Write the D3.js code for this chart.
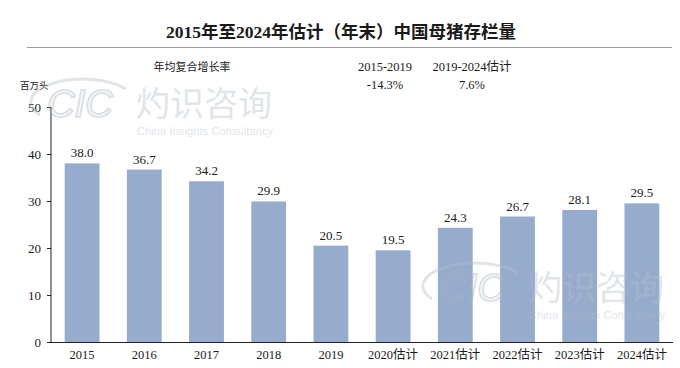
<!DOCTYPE html>
<html>
<head>
<meta charset="utf-8">
<script src="https://cdn.jsdelivr.net/npm/d3@7/dist/d3.min.js"></script>
<style>
  body { margin: 0; background: #fff; }
  svg text { font-family: "Liberation Serif", "Noto Sans CJK SC", serif; fill: #1a1a1a; }
</style>
</head>
<body>
<svg id="chart" width="680" height="368"></svg>
<script>
// data
const years = ['2015', '2016', '2017', '2018', '2019', '2020估计', '2021估计', '2022估计', '2023估计', '2024估计'];
const sows = [38.0, 36.7, 34.2, 29.9, 20.5, 19.5, 24.3, 26.7, 28.1, 29.5];
const yTicks = [0, 10, 20, 30, 40, 50];
const cagrPeriods = ['2015-2019', '2019-2024估计'];
const cagrValues = ['-14.3%', '7.6%'];

const svg = d3.select('#chart');
const margin = { top: 107, left: 51, right: 7, bottom: 26 };
const width = 680, height = 368;

const x = d3.scaleBand()
  .domain(years)
  .range([margin.left, width - margin.right])
  .paddingInner(0.44)
  .paddingOuter(0.22);

const y = d3.scaleLinear()
  .domain([0, 50])
  .range([height - margin.bottom, margin.top]);

// title
svg.append('text')
  .attr('x', 341).attr('y', 38)
  .attr('text-anchor', 'middle')
  .style('font-size', '17.5px')
  .style('font-weight', 'bold')
  .text('2015年至2024年估计（年末）中国母猪存栏量');

svg.append('line')
  .attr('x1', 27).attr('x2', 672)
  .attr('y1', 47.5).attr('y2', 47.5)
  .attr('stroke', '#999').attr('stroke-width', 1);

// CAGR header
svg.append('text')
  .attr('x', 192).attr('y', 71)
  .attr('text-anchor', 'middle')
  .style('font-size', '11px')
  .text('年均复合增长率');

const cagrX = [385, 472];
cagrPeriods.forEach((p, i) => {
  svg.append('text')
    .attr('x', cagrX[i]).attr('y', 71)
    .attr('text-anchor', 'middle')
    .style('font-size', '12.5px')
    .text(p);
  svg.append('text')
    .attr('x', cagrX[i]).attr('y', 89)
    .attr('text-anchor', 'middle')
    .style('font-size', '12.5px')
    .text(cagrValues[i]);
});

svg.append('text')
  .attr('x', 20).attr('y', 89)
  .style('font-size', '9.5px')
  .text('百万头');

// bars
svg.selectAll('.bar')
  .data(sows)
  .enter()
  .append('rect')
  .attr('class', 'bar')
  .attr('x', (d, i) => x(years[i]))
  .attr('width', x.bandwidth())
  .attr('y', d => y(d))
  .attr('height', d => y(0) - y(d))
  .attr('fill', '#97abcc');

svg.selectAll('.val')
  .data(sows)
  .enter()
  .append('text')
  .attr('class', 'val')
  .attr('x', (d, i) => x(years[i]) + x.bandwidth() / 2)
  .attr('y', d => y(d) - 6)
  .attr('text-anchor', 'middle')
  .style('font-size', '13px')
  .text(d => d.toFixed(1));

// axes
const yAxis = d3.axisLeft(y).tickValues(yTicks).tickSize(4).tickPadding(6);
const gy = svg.append('g')
  .attr('transform', `translate(${margin.left},0)`)
  .call(yAxis);
gy.select('.domain').attr('d', `M0,${y(50)}V${y(0)}`);
gy.selectAll('text').style('font-size', '13px').style('font-family', 'Liberation Serif, serif');
gy.selectAll('line, path').attr('stroke', '#222');

const xAxis = d3.axisBottom(x).tickSize(0).tickPadding(8);
const gx = svg.append('g')
  .attr('transform', `translate(0,${y(0)})`)
  .call(xAxis);
gx.select('.domain').attr('d', `M${margin.left - 4},0.5H${width - margin.right}`).attr('stroke', '#222');
gx.selectAll('text').style('font-size', '12.5px').style('font-family', 'Liberation Serif, Noto Sans CJK SC, serif');

// watermarks, drawn over the bars
const watermark = (wx, wy) => {
  const g = svg.append('g').attr('transform', `translate(${wx},${wy})`).attr('opacity', 0.4);
  g.append('path')
    .attr('d', 'M-40,12 A50,22 0 0 1 46,-14')
    .attr('fill', 'none').attr('stroke', '#b4c0cd').attr('stroke-width', 3);
  g.append('text').text('CIC')
    .attr('x', 0).attr('y', 14)
    .attr('text-anchor', 'middle')
    .style('font-family', 'Liberation Sans, sans-serif')
    .style('font-style', 'italic')
    .style('font-size', '38px')
    .style('fill', 'none')
    .style('stroke', '#a9b6c4')
    .style('stroke-width', 2);
  g.append('text').text('灼识咨询')
    .attr('x', 56).attr('y', 13)
    .style('font-family', 'Noto Sans CJK SC, sans-serif')
    .style('font-size', '34px')
    .style('fill', '#b4c0cd');
  g.append('text').text('China Insights Consultancy')
    .attr('x', 57).attr('y', 32)
    .attr('textLength', 136)
    .style('font-family', 'Liberation Sans, sans-serif')
    .style('font-size', '11px')
    .style('fill', '#b4c0cd');
};
watermark(80, 103);
watermark(472, 287);
</script>
</body>
</html>
